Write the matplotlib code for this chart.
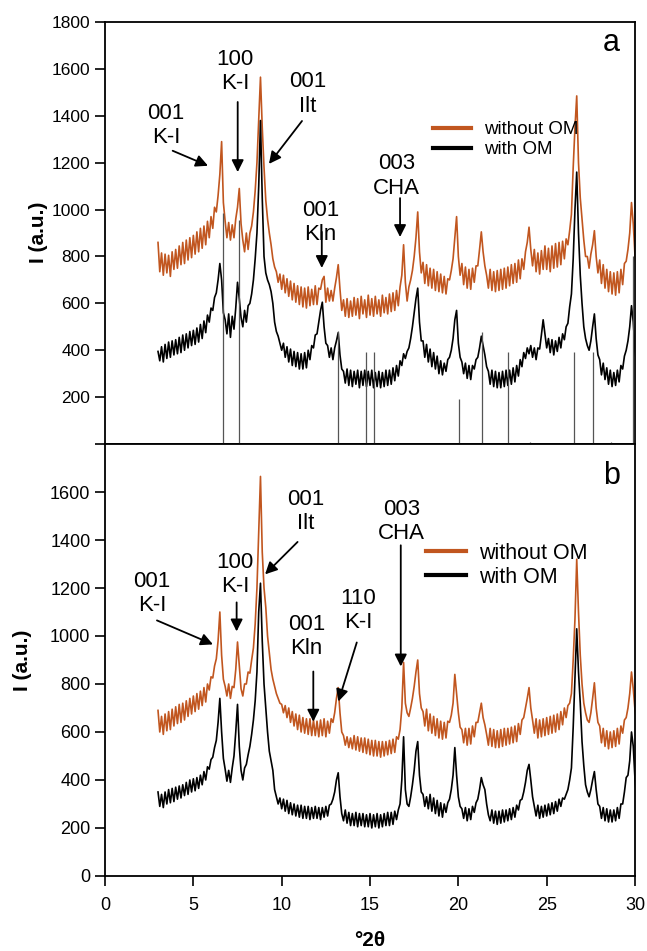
import numpy as np
import matplotlib
matplotlib.use('Agg')
import matplotlib.pyplot as plt

plt.rcParams['font.family'] = ['Liberation Sans', 'DejaVu Sans']

# 2-theta grid (degrees), 0.1 step from 3.0 to 30.3
two_theta = np.linspace(3.0, 30.3, 274)

# panel a - without OM (orange)
a_without = [
    860, 735, 815, 720, 810, 730, 805, 715, 820, 745,
    830, 750, 845, 765, 860, 770, 870, 785, 880, 795,
    890, 810, 905, 820, 920, 835, 930, 850, 950, 880,
    970, 920, 1010, 990, 1060, 1150, 1290, 1030, 950, 880,
    945, 870, 935, 880, 960, 1010, 1090, 940, 870, 820,
    900, 830, 900, 930, 990, 1080, 1200, 1380, 1565, 1350,
    1180, 1040, 960, 900, 850, 790, 755, 735, 690, 725,
    660, 720, 645, 705, 630, 695, 615, 685, 605, 675,
    595, 670, 585, 665, 580, 670, 590, 660, 595, 675,
    595, 665, 660, 700, 715, 605, 665, 610, 655, 610,
    665, 710, 765, 660, 570, 615, 545, 620, 540, 610,
    545, 625, 550, 620, 535, 630, 555, 615, 540, 635,
    550, 620, 545, 630, 555, 615, 545, 635, 560, 625,
    555, 640, 565, 645, 570, 655, 590, 670, 720, 850,
    690, 610, 670, 700, 740, 800, 880, 990, 820, 730,
    775, 685, 765, 675, 750, 665, 745, 655, 735, 650,
    725, 645, 715, 640, 705, 700, 740, 790, 880, 970,
    800, 720, 770, 680, 755, 665, 745, 660, 750, 690,
    760, 760, 830, 905, 820, 760, 720, 665, 745, 655,
    735, 650, 740, 655, 745, 660, 750, 665, 755, 675,
    765, 685, 770, 690, 785, 705, 790, 745, 820, 860,
    925, 830, 760, 830, 735, 815, 725, 825, 745, 845,
    745, 835, 735, 845, 750, 855, 755, 860, 765, 865,
    790, 875, 850, 910, 980, 1180, 1350, 1485, 1200, 1050,
    960, 870, 800, 800, 750, 810, 850, 910, 800, 730,
    785, 685, 765, 665, 745, 650, 735, 640, 730, 635,
    735, 645, 745, 680, 770, 780, 830, 900, 1030, 940,
    800, 740, 700, 660,
]

# panel a - with OM (black)
a_with = [
    395, 355, 415, 350, 425, 365, 435, 370, 440, 380,
    445, 385, 455, 390, 465, 400, 470, 410, 480, 420,
    485, 425, 495, 435, 510, 450, 525, 475, 550, 520,
    580, 570, 625, 645, 700, 770, 700, 560, 530, 470,
    555, 455, 545, 490, 580, 690, 620, 540, 500, 570,
    520, 590, 600, 640, 700, 790, 900, 1100, 1380, 1050,
    800, 730, 700, 680, 650, 600, 520, 480, 460, 430,
    400, 430, 370, 415, 350, 405, 335, 395, 330, 390,
    320, 385, 320, 390, 325, 400, 360, 420, 410, 465,
    470, 520, 570, 605, 500, 430, 420, 370, 410, 360,
    410, 440, 475, 380, 320, 310, 260, 320, 250, 315,
    245, 310, 255, 315, 240, 310, 250, 315, 245, 310,
    250, 315, 240, 305, 245, 310, 240, 305, 245, 315,
    250, 315, 255, 325, 270, 335, 290, 355, 335, 385,
    365, 395, 410, 450, 500, 560, 620, 665, 520, 440,
    440, 370, 425, 350, 405, 330, 390, 320, 375, 300,
    355, 295, 345, 310, 360, 370, 400, 450, 530, 570,
    430, 370, 350, 300, 345, 280, 335, 275, 335, 320,
    360, 370, 410, 460, 420, 380, 330, 310, 255, 315,
    245, 310, 240, 305, 240, 310, 245, 315, 250, 315,
    255, 325, 265, 335, 290, 360, 330, 390, 365, 410,
    385, 420, 370, 410, 360, 410, 405, 465, 530, 470,
    410, 450, 390, 445, 380, 440, 395, 455, 410, 470,
    445, 500, 515, 585, 640, 790, 1000, 1160, 900, 720,
    600, 500, 450, 420, 400, 440, 500, 555, 450, 380,
    360, 295, 345, 275, 325, 255, 315, 245, 305, 250,
    315, 265, 335, 320, 375, 400, 440, 500, 590, 520,
    400, 330, 300, 270,
]

# panel b - without OM (orange)
b_without = [
    690, 600, 665, 590, 675, 605, 685, 610, 695, 625,
    705, 635, 715, 640, 720, 650, 730, 665, 740, 675,
    750, 685, 760, 695, 770, 710, 785, 725, 800, 775,
    830, 825, 875, 905, 980, 1100, 920, 820, 790, 750,
    800, 740, 790, 785, 860, 975, 880, 780, 750, 800,
    800, 850, 845, 900, 950, 1050, 1200, 1440, 1665, 1350,
    1200, 1120, 1000, 930, 860, 820, 790, 760, 740, 720,
    715, 680, 710, 660, 700, 640, 685, 625, 675, 610,
    670, 600, 660, 595, 655, 590, 655, 585, 650, 585,
    645, 580, 650, 585, 655, 580, 645, 595, 655, 640,
    680, 740, 785, 680, 600, 585, 545, 580, 535, 575,
    530, 585, 525, 580, 520, 575, 515, 575, 510, 570,
    505, 565, 500, 565, 500, 560, 495, 560, 500, 560,
    505, 565, 510, 570, 515, 580, 570, 610, 700, 890,
    720, 680, 665, 700, 740, 790, 850, 900, 760, 700,
    685, 625, 695, 605, 675, 595, 665, 585, 655, 575,
    645, 570, 640, 575, 645, 640, 670, 720, 840, 760,
    680, 620, 610, 555, 615, 545, 615, 550, 625, 580,
    640, 640, 680, 720, 660, 630, 590, 545, 615, 540,
    610, 535, 605, 535, 610, 540, 615, 545, 615, 550,
    620, 555, 625, 560, 635, 590, 650, 660, 700, 740,
    785, 700, 650, 595, 655, 575, 650, 580, 655, 585,
    660, 590, 665, 595, 670, 600, 675, 610, 685, 630,
    700, 660, 710, 720, 760, 900, 1070, 1320, 1100, 920,
    800, 720, 680, 650, 640, 680, 740, 805, 700, 640,
    625, 555, 615, 540, 605, 530, 600, 535, 605, 540,
    615, 550, 625, 595, 650, 660, 700, 760, 850, 780,
    690, 640, 600, 575,
]

# panel b - with OM (black)
b_with = [
    350, 290, 340, 285, 350, 300, 360, 305, 365, 310,
    370, 320, 375, 325, 380, 335, 390, 340, 400, 350,
    405, 355, 410, 365, 420, 380, 435, 400, 455, 445,
    485, 495, 535, 565, 640, 740, 600, 490, 445, 395,
    440, 390, 450, 500, 600, 715, 540, 440, 400, 450,
    465, 505, 540, 590, 650, 730, 850, 1100, 1220, 980,
    800, 700, 600, 520, 480, 440, 360, 330, 300, 325,
    280, 320, 270, 315, 260, 305, 255, 300, 250, 295,
    245, 295, 240, 290, 240, 290, 235, 285, 240, 290,
    240, 285, 235, 285, 245, 290, 250, 295, 300, 320,
    350, 400, 430, 330, 260, 230, 275, 220, 265, 210,
    260, 210, 265, 205, 260, 210, 260, 205, 255, 205,
    260, 200, 255, 205, 260, 200, 255, 205, 260, 210,
    265, 210, 265, 215, 270, 235, 275, 300, 400, 580,
    360, 300, 290, 330, 380, 440, 520, 560, 420, 350,
    340, 290, 330, 280, 340, 270, 325, 260, 315, 250,
    305, 245, 300, 265, 305, 320, 360, 420, 535, 420,
    330, 290, 280, 240, 285, 230, 280, 235, 290, 265,
    305, 320, 360, 410, 380, 360, 300, 255, 230, 275,
    220, 270, 215, 270, 220, 275, 225, 275, 230, 280,
    235, 285, 245, 295, 275, 315, 320, 350, 390, 440,
    465, 400, 330, 290, 250, 295, 240, 290, 245, 295,
    250, 300, 255, 305, 260, 310, 270, 320, 290, 325,
    320, 340, 360, 400, 450, 620, 830, 1030, 850, 720,
    560, 460, 380, 350, 330, 360, 400, 435, 360, 300,
    290, 240, 285, 230, 280, 225, 275, 225, 275, 230,
    285, 240, 300, 300, 350, 410, 420, 480, 600, 540,
    400, 320, 290, 280,
]

# reference pattern sticks in panel a
stick_pos = [6.66, 7.60, 13.17, 14.75, 15.24, 20.03, 21.35, 22.81, 24.05, 26.54, 27.60, 28.64, 29.87]
stick_height = [985, 955, 480, 392, 392, 192, 477, 392, 8, 392, 392, 8, 800]

orange = '#c1561f'

fig = plt.figure(figsize=(6.47, 9.51), dpi=100)
ax1 = fig.add_axes([0.1623, 0.5331, 0.8192, 0.4437])
ax2 = fig.add_axes([0.1623, 0.0789, 0.8192, 0.4542])

ax1.vlines(stick_pos, 0, stick_height, color='#555555', lw=0.9, zorder=3)

for ax, yo, yb in [(ax1, a_without, a_with), (ax2, b_without, b_with)]:
    ax.plot(two_theta, yo, color=orange, lw=1.2, label='without OM', zorder=2)
    ax.plot(two_theta, yb, color='black', lw=1.2, label='with OM', zorder=2)
    ax.set_xlim(0, 30)
    ax.set_ylim(0, 1800)
    for s in ax.spines.values():
        s.set_linewidth(1.3)
    ax.tick_params(direction='out', length=7, width=1.2)

ax1.set_yticks(range(0, 1801, 200))
ax1.set_yticklabels([''] + [str(v) for v in range(200, 1801, 200)], fontsize=12.5)
ax1.tick_params(axis='x', length=0, labelbottom=False)

ax2.set_yticks(range(0, 1601, 200))
ax2.set_yticklabels([str(v) for v in range(0, 1601, 200)], fontsize=13)
ax2.set_xticks(range(0, 31, 5))
ax2.set_xticklabels([str(v) for v in range(0, 31, 5)], fontsize=13)
ax2.tick_params(axis='x', pad=8)

fig.text(38 / 647, 1 - 232 / 951, 'I (a.u.)', rotation=90, ha='center', va='center',
         fontsize=15, fontweight='bold')
fig.text(23 / 647, 1 - 660 / 951, 'I (a.u.)', rotation=90, ha='center', va='center',
         fontsize=15, fontweight='bold')
fig.text(370 / 647, 1 - 940 / 951, '°2θ', ha='center', va='center',
         fontsize=15, fontweight='bold')

ax1.text(0.955, 0.95, 'a', transform=ax1.transAxes, ha='center', va='center', fontsize=22)
ax2.text(0.955, 0.925, 'b', transform=ax2.transAxes, ha='center', va='center', fontsize=22)

ax1.legend(loc='upper left', bbox_to_anchor=(0.619, 0.765), frameon=False, fontsize=13.5,
           handlelength=2.0, handletextpad=0.7, labelspacing=0.15, borderpad=0,
           borderaxespad=0)
for h in ax1.get_legend().legend_handles:
    h.set_linewidth(3)
ax2.legend(loc='upper left', bbox_to_anchor=(0.606, 0.772), frameon=False, fontsize=15.5,
           handlelength=1.86, handletextpad=0.6, labelspacing=0.15, borderpad=0,
           borderaxespad=0)
for h in ax2.get_legend().legend_handles:
    h.set_linewidth(3)

arrow = dict(arrowstyle='-|>', color='black', lw=1.3, mutation_scale=18, shrinkA=0, shrinkB=0)

# (text, text x, text y, arrow start, arrow end)
notes_a = [
    ('001\nK-I', 3.45, 1360, (3.83, 1251), (5.83, 1187)),
    ('100\nK-I', 7.35, 1590, (7.51, 1459), (7.51, 1160)),
    ('001\nIlt', 11.49, 1493, (11.15, 1378), (9.28, 1195)),
    ('001\nKln', 12.2, 945, (12.27, 905), (12.27, 751)),
    ('003\nCHA', 16.5, 1143, (16.7, 1049), (16.7, 883)),
]
notes_b = [
    ('001\nK-I', 2.66, 1178, (2.94, 1065), (6.11, 965)),
    ('100\nK-I', 7.36, 1255, (7.45, 1140), (7.45, 1019)),
    ('001\nIlt', 11.38, 1518, (10.9, 1392), (9.06, 1257)),
    ('001\nKln', 11.41, 998, (11.79, 852), (11.79, 643)),
    ('110\nK-I', 14.34, 1106, (14.25, 973), (13.21, 727)),
    ('003\nCHA', 16.79, 1476, (16.74, 1378), (16.74, 873)),
]
for ax, notes in [(ax1, notes_a), (ax2, notes_b)]:
    for txt, tx, ty, start, end in notes:
        ax.text(tx, ty, txt, ha='center', va='center', fontsize=16, linespacing=1.2)
        ax.annotate('', xy=end, xytext=start, arrowprops=arrow)

fig.savefig('out.png', dpi=100)
